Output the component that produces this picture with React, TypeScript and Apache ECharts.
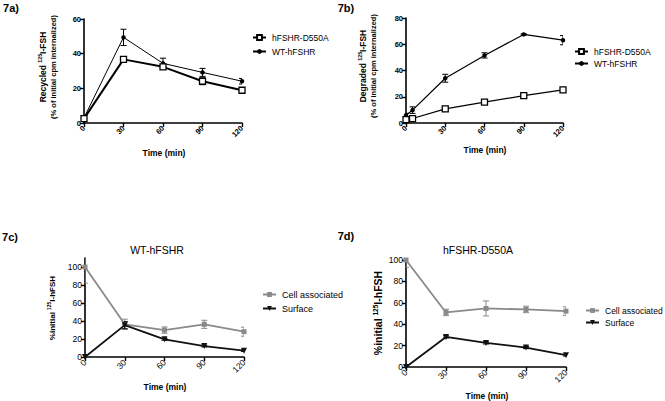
import React, { useEffect, useRef } from "react";
import * as echarts from "echarts";

// ---- data ----
const timesA = [0, 30, 60, 90, 120];
const aD550A = [2.5, 36.7, 32.4, 24.1, 18.9];
const aD550AErr = [0, 0.6, 1, 2, 0.8];
const aWT = [3, 49.4, 34.4, 29.2, 24.1];
const aWTErr = [0, 4.7, 3, 2.3, 1.6];

const timesB = [0, 5, 30, 60, 90, 120];
const bD550A = [2.6, 3.4, 10.8, 15.9, 20.8, 25.2];
const bWT = [5.9, 9.8, 34.1, 51.5, 67.5, 63.1];
const bWTErr = [1.5, 2.5, 3, 2, 0.5, 3.5];

const timesC = [0, 30, 60, 90, 120];
const cCell = [100, 36.3, 29.9, 36.3, 28.1];
const cCellErr = [18, 5.7, 3.5, 4.5, 5];
const cSurface = [0, 35.4, 19.6, 12.2, 7];
const cSurfaceErr = [0, 4, 1, 1, 0.8];

const timesD = [0, 30, 60, 90, 120];
const dCell = [100, 51, 54.7, 53.8, 52.2];
const dCellErr = [7, 3, 7, 3, 4];
const dSurface = [0, 28.1, 22.5, 18.2, 11];
const dSurfaceErr = [0, 1, 1, 1, 0.8];

const cYTicks = [0, 20, 40, 60, 80, 100];

const FONT = "'Liberation Sans', Arial, Helvetica, sans-serif";
const GRAY = "#8a8a8a";

const pairs = (xs: number[], ys: number[]) => xs.map((x, i) => [x, ys[i]]);
const triples = (xs: number[], ys: number[], es: number[]) =>
  xs.map((x, i) => [x, ys[i], es[i]]);

function errSeries(idx: number, data: number[][], color: string, cap = 3, lw = 1) {
  return {
    type: "custom",
    xAxisIndex: idx,
    yAxisIndex: idx,
    clip: true,
    z: 1,
    silent: true,
    encode: { x: 0, y: 1 },
    data,
    renderItem: (params: any, api: any) => {
      const x = api.value(0);
      const y = api.value(1);
      const e = api.value(2);
      if (!e) return null;
      const p0 = api.coord([x, y + e]);
      const p1 = api.coord([x, y - e]);
      const st = { stroke: color, lineWidth: lw };
      return {
        type: "group",
        children: [
          { type: "line", shape: { x1: p0[0], y1: p0[1], x2: p1[0], y2: p1[1] }, style: st },
          { type: "line", shape: { x1: p0[0] - cap, y1: p0[1], x2: p0[0] + cap, y2: p0[1] }, style: st },
          { type: "line", shape: { x1: p1[0] - cap, y1: p1[1], x2: p1[0] + cap, y2: p1[1] }, style: st },
        ],
      };
    },
  };
}

function xAxis(idx: number, fs: number, bold: boolean) {
  return {
    type: "value",
    gridIndex: idx,
    min: 0,
    max: 120,
    interval: 30,
    axisLine: { show: true, onZero: false, lineStyle: { color: "#000", width: 1.6 } },
    axisTick: { show: true, length: 4, lineStyle: { color: "#000", width: 1.4 } },
    axisLabel: {
      rotate: 45,
      margin: 4,
      fontSize: fs,
      fontWeight: bold ? "bold" : "normal",
      color: "#000",
      fontFamily: FONT,
    },
    splitLine: { show: false },
  };
}

function yAxis(idx: number, max: number, fs: number, bold: boolean, extra: any = {}) {
  return {
    type: "value",
    gridIndex: idx,
    min: 0,
    max,
    interval: 20,
    axisLine: { show: true, onZero: false, lineStyle: { color: "#000", width: 1.6 } },
    axisTick: { show: true, length: 4, lineStyle: { color: "#000", width: 1.4 }, ...(extra.tick || {}) },
    axisLabel: {
      margin: 3,
      fontSize: fs,
      fontWeight: bold ? "bold" : "normal",
      color: "#000",
      fontFamily: FONT,
      ...(extra.label || {}),
    },
    splitLine: { show: false },
  };
}

function txt(x: number, y: number, text: string, fs: number, bold: boolean) {
  return {
    type: "text",
    x,
    y,
    style: {
      text,
      fontSize: fs,
      fontWeight: bold ? "bold" : "normal",
      fontFamily: FONT,
      fill: "#000",
      align: "center",
      verticalAlign: "middle",
    },
  };
}

function legend(left: number, top: number, names: string[], fs: number, gap: number) {
  return {
    left,
    top,
    padding: 0,
    orient: "vertical",
    data: names,
    selectedMode: false,
    itemWidth: 13,
    itemHeight: 6,
    itemGap: gap,
    textStyle: { fontSize: fs, color: "#000", fontFamily: FONT, padding: [0, 0, 0, 1] },
  };
}

export default function App() {
  const ref = useRef<HTMLDivElement>(null);
  useEffect(() => {
    if (!ref.current) return;
    const chart = echarts.init(ref.current, null, { renderer: "svg" });
    const richY = (l1a: string, l1b: string, l2: string | null, fs1: number, fs2: number) => ({
      text: `{b|${l1a}}{sup|125}{b|${l1b}}` + (l2 ? `\n{s|${l2}}` : ""),
      rich: {
        b: { fontSize: fs1, fontWeight: "bold", fontFamily: FONT, lineHeight: fs1 + 2, fill: "#000" },
        sup: { fontSize: fs1 * 0.62, fontWeight: "bold", fontFamily: FONT, verticalAlign: "top", lineHeight: fs1 + 2, fill: "#000" },
        s: { fontSize: fs2, fontWeight: "bold", fontFamily: FONT, lineHeight: fs2 + 2.5, fill: "#000" },
      },
    });
    const option: any = {
      animation: false,
      backgroundColor: "#fff",
      grid: [
        { left: 84, top: 19, width: 158, height: 104 },
        { left: 406, top: 18, width: 157, height: 105 },
        { left: 85, top: 258, width: 159, height: 99 },
        { left: 406, top: 260, width: 160, height: 107 },
      ],
      xAxis: [xAxis(0, 7.5, true), xAxis(1, 7.5, true), xAxis(2, 8.5, false), xAxis(3, 8.5, false)],
      yAxis: [
        yAxis(0, 60, 7.5, true),
        yAxis(1, 80, 7.5, true),
        yAxis(2, 110, 8.5, false, {
          tick: { customValues: cYTicks },
          label: { customValues: cYTicks },
        }),
        yAxis(3, 100, 8.5, false),
      ],
      legend: [
        legend(252, 33, ["hFSHR-D550A", "WT-hFSHR"], 8.5, 5),
        legend(574, 47, ["hFSHR-D550A", "WT-hFSHR"], 8.5, 3),
        legend(262, 290, ["Cell associated", "Surface"], 9, 5),
        legend(585, 306, ["Cell associated", "Surface"], 8.5, 3),
      ],
      series: [
        errSeries(0, triples(timesA, aD550A, aD550AErr), "#000"),
        errSeries(0, triples(timesA, aWT, aWTErr), "#000"),
        {
          name: "hFSHR-D550A",
          type: "line",
          xAxisIndex: 0,
          yAxisIndex: 0,
          z: 3,
          data: pairs(timesA, aD550A),
          lineStyle: { color: "#000", width: 2 },
          itemStyle: { color: "#fff", borderColor: "#000", borderWidth: 1.3 },
          symbol: "rect",
          symbolSize: 6,
        },
        {
          name: "WT-hFSHR",
          type: "line",
          xAxisIndex: 0,
          yAxisIndex: 0,
          z: 2,
          data: pairs(timesA, aWT),
          lineStyle: { color: "#000", width: 1 },
          itemStyle: { color: "#000" },
          symbol: "circle",
          symbolSize: 4.5,
        },
        errSeries(1, triples(timesB, bWT, bWTErr), "#000"),
        {
          name: "hFSHR-D550A",
          type: "line",
          xAxisIndex: 1,
          yAxisIndex: 1,
          z: 3,
          data: pairs(timesB, bD550A),
          lineStyle: { color: "#000", width: 1.2 },
          itemStyle: { color: "#fff", borderColor: "#000", borderWidth: 1.3 },
          symbol: "rect",
          symbolSize: 6,
        },
        {
          name: "WT-hFSHR",
          type: "line",
          xAxisIndex: 1,
          yAxisIndex: 1,
          z: 2,
          data: pairs(timesB, bWT),
          lineStyle: { color: "#000", width: 1.2 },
          itemStyle: { color: "#000" },
          symbol: "circle",
          symbolSize: 4.5,
        },
        errSeries(2, triples(timesC, cCell, cCellErr), GRAY),
        errSeries(2, triples(timesC, cSurface, cSurfaceErr), "#000"),
        {
          name: "Cell associated",
          type: "line",
          xAxisIndex: 2,
          yAxisIndex: 2,
          z: 2,
          data: pairs(timesC, cCell),
          lineStyle: { color: GRAY, width: 1.8 },
          itemStyle: { color: GRAY },
          symbol: "rect",
          symbolSize: 5,
        },
        {
          name: "Surface",
          type: "line",
          xAxisIndex: 2,
          yAxisIndex: 2,
          z: 3,
          data: pairs(timesC, cSurface),
          lineStyle: { color: "#111", width: 1.8 },
          itemStyle: { color: "#111" },
          symbol: "triangle",
          symbolRotate: 180,
          symbolSize: 6,
        },
        errSeries(3, triples(timesD, dCell, dCellErr), GRAY),
        errSeries(3, triples(timesD, dSurface, dSurfaceErr), "#000"),
        {
          name: "Cell associated",
          type: "line",
          xAxisIndex: 3,
          yAxisIndex: 3,
          z: 2,
          data: pairs(timesD, dCell),
          lineStyle: { color: GRAY, width: 1.8 },
          itemStyle: { color: GRAY },
          symbol: "rect",
          symbolSize: 5,
        },
        {
          name: "Surface",
          type: "line",
          xAxisIndex: 3,
          yAxisIndex: 3,
          z: 3,
          data: pairs(timesD, dSurface),
          lineStyle: { color: "#111", width: 1.8 },
          itemStyle: { color: "#111" },
          symbol: "triangle",
          symbolRotate: 180,
          symbolSize: 6,
        },
      ],
      graphic: [
        txt(11, 8, "7a)", 11, true),
        txt(346, 8, "7b)", 11, true),
        txt(10, 237, "7c)", 11, true),
        txt(346, 236, "7d)", 11, true),
        txt(157, 250, "WT-hFSHR", 10.5, false),
        txt(478, 250, "hFSHR-D550A", 10.5, false),
        txt(164, 153, "Time (min)", 8.5, true),
        txt(485, 150, "Time (min)", 8.5, true),
        txt(165, 387, "Time (min)", 8.5, true),
        txt(487, 396, "Time (min)", 8.5, true),
        {
          type: "text",
          x: 48,
          y: 67,
          rotation: Math.PI / 2,
          style: {
            ...richY("Recycled ", "I-FSH", "(% of initial cpm internalized)", 8.5, 7.5),
            align: "center",
            verticalAlign: "middle",
          },
        },
        {
          type: "text",
          x: 368,
          y: 66,
          rotation: Math.PI / 2,
          style: {
            ...richY("Degraded ", "I-FSH", "(% of initial cpm internalized)", 8.5, 7.5),
            align: "center",
            verticalAlign: "middle",
          },
        },
        {
          type: "text",
          x: 52,
          y: 308,
          rotation: Math.PI / 2,
          style: {
            ...richY("%initial ", "I-hFSH", null, 8, 8),
            align: "center",
            verticalAlign: "middle",
          },
        },
        {
          type: "text",
          x: 378,
          y: 313,
          rotation: Math.PI / 2,
          style: {
            ...richY("%initial ", "I-hFSH", null, 10.5, 10.5),
            align: "center",
            verticalAlign: "middle",
          },
        },
      ],
    };
    chart.setOption(option);
    return () => chart.dispose();
  }, []);
  return (
    <div
      ref={ref}
      style={{ position: "fixed", left: 0, top: 0, width: 665, height: 401, background: "#fff" }}
    />
  );
}
